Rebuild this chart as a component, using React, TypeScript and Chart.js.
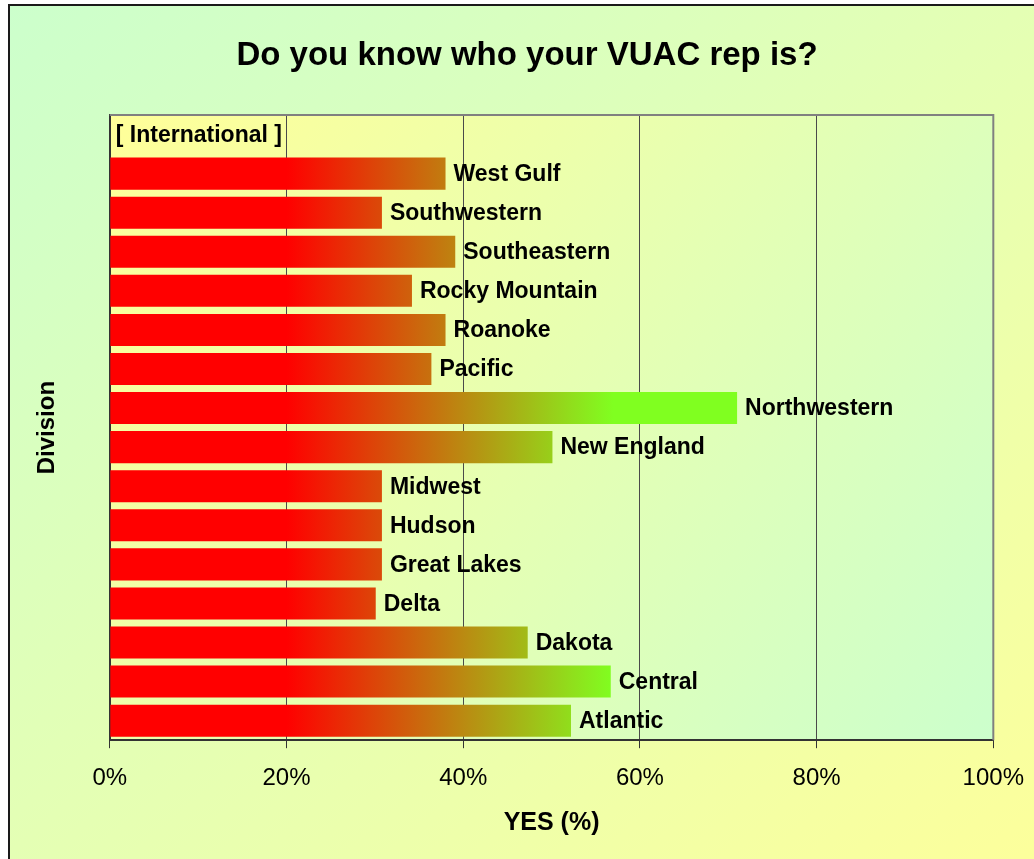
import React, { useEffect, useRef } from "react";
import { Chart, registerables } from "chart.js";

Chart.register(...registerables);

// Divisions, top to bottom as drawn
const categories = [
  "[ International ]",
  "West Gulf",
  "Southwestern",
  "Southeastern",
  "Rocky Mountain",
  "Roanoke",
  "Pacific",
  "Northwestern",
  "New England",
  "Midwest",
  "Hudson",
  "Great Lakes",
  "Delta",
  "Dakota",
  "Central",
  "Atlantic",
];
// YES (%) per division
const yesPercent = [0, 38.0, 30.8, 39.1, 34.2, 38.0, 36.4, 71.0, 50.1, 30.8, 30.8, 30.8, 30.1, 47.3, 56.7, 52.2];
const xTickValues = [0, 20, 40, 60, 80, 100];
const chartTitle = "Do you know who your VUAC rep is?";

const FONT = "'Liberation Sans', Arial, sans-serif";

const plotBgPlugin = {
  id: "plotBg",
  beforeDraw(chart: any) {
    const { ctx, chartArea: ca } = chart;
    if (!ca) return;
    ctx.save();
    const g = ctx.createLinearGradient(ca.left, ca.top, ca.right, ca.bottom);
    g.addColorStop(0, "#FFFF99");
    g.addColorStop(1, "#CCFFCC");
    ctx.fillStyle = g;
    ctx.fillRect(ca.left, ca.top, ca.right - ca.left, ca.bottom - ca.top);
    ctx.restore();
  },
  afterDraw(chart: any) {
    const { ctx, chartArea: ca } = chart;
    ctx.save();
    ctx.strokeStyle = "#808080";
    ctx.lineWidth = 2;
    ctx.beginPath();
    ctx.moveTo(ca.left, ca.top);
    ctx.lineTo(ca.right, ca.top);
    ctx.lineTo(ca.right, ca.bottom);
    ctx.stroke();
    // chart title
    ctx.font = `bold 33px ${FONT}`;
    ctx.fillStyle = "#000";
    ctx.textAlign = "center";
    ctx.textBaseline = "middle";
    ctx.fillText(chartTitle, 517, 50);
    ctx.restore();
  },
};

const barLabelPlugin = {
  id: "barLabels",
  afterDatasetsDraw(chart: any) {
    const { ctx } = chart;
    const meta = chart.getDatasetMeta(0);
    ctx.save();
    ctx.font = `bold 23px ${FONT}`;
    ctx.fillStyle = "#000";
    ctx.textAlign = "left";
    ctx.textBaseline = "middle";
    meta.data.forEach((bar: any, i: number) => {
      const gap = yesPercent[i] === 0 ? 6 : 8;
      ctx.fillText(categories[i], bar.x + gap, bar.y + 1);
    });
    ctx.restore();
  },
};

export default function App() {
  const ref = useRef<HTMLCanvasElement | null>(null);

  useEffect(() => {
    if (!ref.current) return;
    const chart = new Chart(ref.current, {
      type: "bar",
      data: {
        labels: categories,
        datasets: [
          {
            label: "YES (%)",
            data: yesPercent,
            borderWidth: 0,
            barPercentage: 0.82,
            categoryPercentage: 1,
            backgroundColor: (c: any) => {
              const ca = c.chart.chartArea;
              if (!ca) return "#FF0000";
              const g = c.chart.ctx.createLinearGradient(ca.left, 0, ca.right, 0);
              g.addColorStop(0, "#FF0000");
              g.addColorStop(0.2, "#FF0000");
              g.addColorStop(0.57, "#80FF20");
              g.addColorStop(1, "#80FF20");
              return g;
            },
          },
        ],
      },
      options: {
        indexAxis: "y",
        animation: false,
        responsive: false,
        maintainAspectRatio: false,
        layout: { padding: { left: 0, right: 34, top: 109, bottom: 0 } },
        plugins: {
          legend: { display: false },
          tooltip: { enabled: false },
          title: { display: false },
        },
        scales: {
          x: {
            type: "linear",
            min: 0,
            max: 100,
            afterBuildTicks: (axis: any) => {
              axis.ticks = xTickValues.map((v) => ({ value: v }));
            },
            ticks: {
              color: "#000",
              font: { family: FONT, size: 24 },
              padding: 16,
              callback: (v: any) => `${v}%`,
            },
            grid: {
              display: true,
              drawTicks: true,
              tickLength: 8,
              color: (c: any) =>
                c.tick && (c.tick.value === 0 || c.tick.value === 100) ? "rgba(0,0,0,0)" : "#4a4a4a",
              tickColor: "#333",
              lineWidth: 1,
            },
            border: { display: true, color: "#333", width: 2 },
            title: {
              display: true,
              text: "YES (%)",
              color: "#000",
              font: { family: FONT, size: 25, weight: "bold" },
              padding: { top: -1, bottom: 21 },
            },
          },
          y: {
            type: "category",
            ticks: { display: false },
            grid: { display: false, drawTicks: false },
            border: { display: true, color: "#333", width: 2 },
            title: {
              display: true,
              text: "Division",
              color: "#000",
              font: { family: FONT, size: 24, weight: "bold" },
              padding: { top: 23, bottom: 48 },
            },
          },
        },
      },
      plugins: [plotBgPlugin, barLabelPlugin],
    } as any);
    return () => chart.destroy();
  }, []);

  return (
    <div style={{ position: "fixed", left: 0, top: 0, width: 1034, height: 859, overflow: "hidden", background: "#fff" }}>
      <div
        style={{
          position: "absolute",
          left: 8,
          top: 4,
          width: 1080,
          height: 900,
          borderLeft: "2px solid #1a1a1a",
          borderTop: "2px solid #1a1a1a",
          background: "linear-gradient(to bottom right, #CCFFCC 0%, #FFFF99 100%)",
        }}
      >
        <canvas ref={ref} width={1030} height={853} style={{ display: "block", width: 1030, height: 853 }} />
      </div>
    </div>
  );
}
